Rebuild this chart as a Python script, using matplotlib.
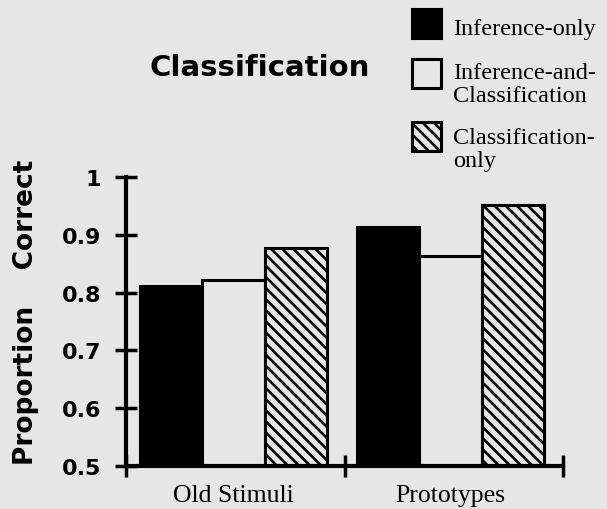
import numpy as np
import matplotlib
matplotlib.use("Agg")
import matplotlib.pyplot as plt
from matplotlib.patches import Rectangle

# data
groups = ["Old Stimuli", "Prototypes"]
series = ["Inference-only", "Inference-and-\nClassification", "Classification-\nonly"]
inference_only = [0.812, 0.913]
inference_and_class = [0.821, 0.864]
classification_only = [0.878, 0.951]
yticks = [0.5, 0.6, 0.7, 0.8, 0.9, 1.0]
ytick_labels = ["0.5", "0.6", "0.7", "0.8", "0.9", "1"]

paper = "#e6e6e6"
plt.rcParams["hatch.linewidth"] = 1.9

W, H = 607, 510
fig = plt.figure(figsize=(W / 100, H / 100), dpi=100, facecolor=paper)
ax = fig.add_axes([126 / W, 43 / H, 437 / W, 289 / H])
ax.set_facecolor(paper)

centers = np.array([0.492, 1.485])
bw = 0.285
styles = [
    dict(facecolor="black", edgecolor="black", hatch=None),
    dict(facecolor=paper, edgecolor="black", hatch=None),
    dict(facecolor=paper, edgecolor="black", hatch="\\\\\\"),
]
values = [inference_only, inference_and_class, classification_only]
for i, (vals, st) in enumerate(zip(values, styles)):
    ax.bar(centers + (i - 1) * bw, np.array(vals) - 0.5, bw, bottom=0.5,
           linewidth=2.2, zorder=2, **st)

ax.set_xlim(0, 2)
ax.set_ylim(0.5, 1.0)
for s in ["top", "right"]:
    ax.spines[s].set_visible(False)
for s in ["left", "bottom"]:
    ax.spines[s].set_linewidth(3)

ax.set_yticks(yticks)
ax.set_yticklabels(ytick_labels, fontfamily="DejaVu Sans", fontweight="bold", fontsize=16)
ax.set_xticks([0, 1, 2])
ax.set_xticklabels([])
ax.set_xticks(centers, minor=True)
ax.set_xticklabels(groups, minor=True, fontfamily="Liberation Serif", fontsize=18.5)
ax.tick_params(axis="both", which="major", direction="inout", length=16, width=2.5)
ax.tick_params(axis="y", pad=10)
ax.tick_params(axis="x", which="minor", length=0, pad=13)

# title and y label
fig.text(260 / W, 1 - 76 / H, "Classification", ha="center", va="baseline",
         fontfamily="DejaVu Sans", fontweight="bold", fontsize=21)
fig.text(26 / W, 1 - 312 / H, "Proportion    Correct", rotation=90, ha="center", va="center",
         fontfamily="DejaVu Sans", fontweight="bold", fontsize=19)

# hand-placed legend; squares and the baseline of each entry's last line, in pixels
legend_rows = [(10, 35), (60, 102), (123, 167)]
for (sq_top, base), label, st in zip(legend_rows, series, styles):
    fig.patches.append(Rectangle((412 / W, 1 - (sq_top + 29) / H), 29 / W, 29 / H,
                                 transform=fig.transFigure, linewidth=2.2, **st))
    fig.text(453 / W, 1 - base / H, label, ha="left", va="baseline",
             fontfamily="Liberation Serif", fontsize=17.5, linespacing=1.1)

fig.savefig("out.png", dpi=100, facecolor=paper)
